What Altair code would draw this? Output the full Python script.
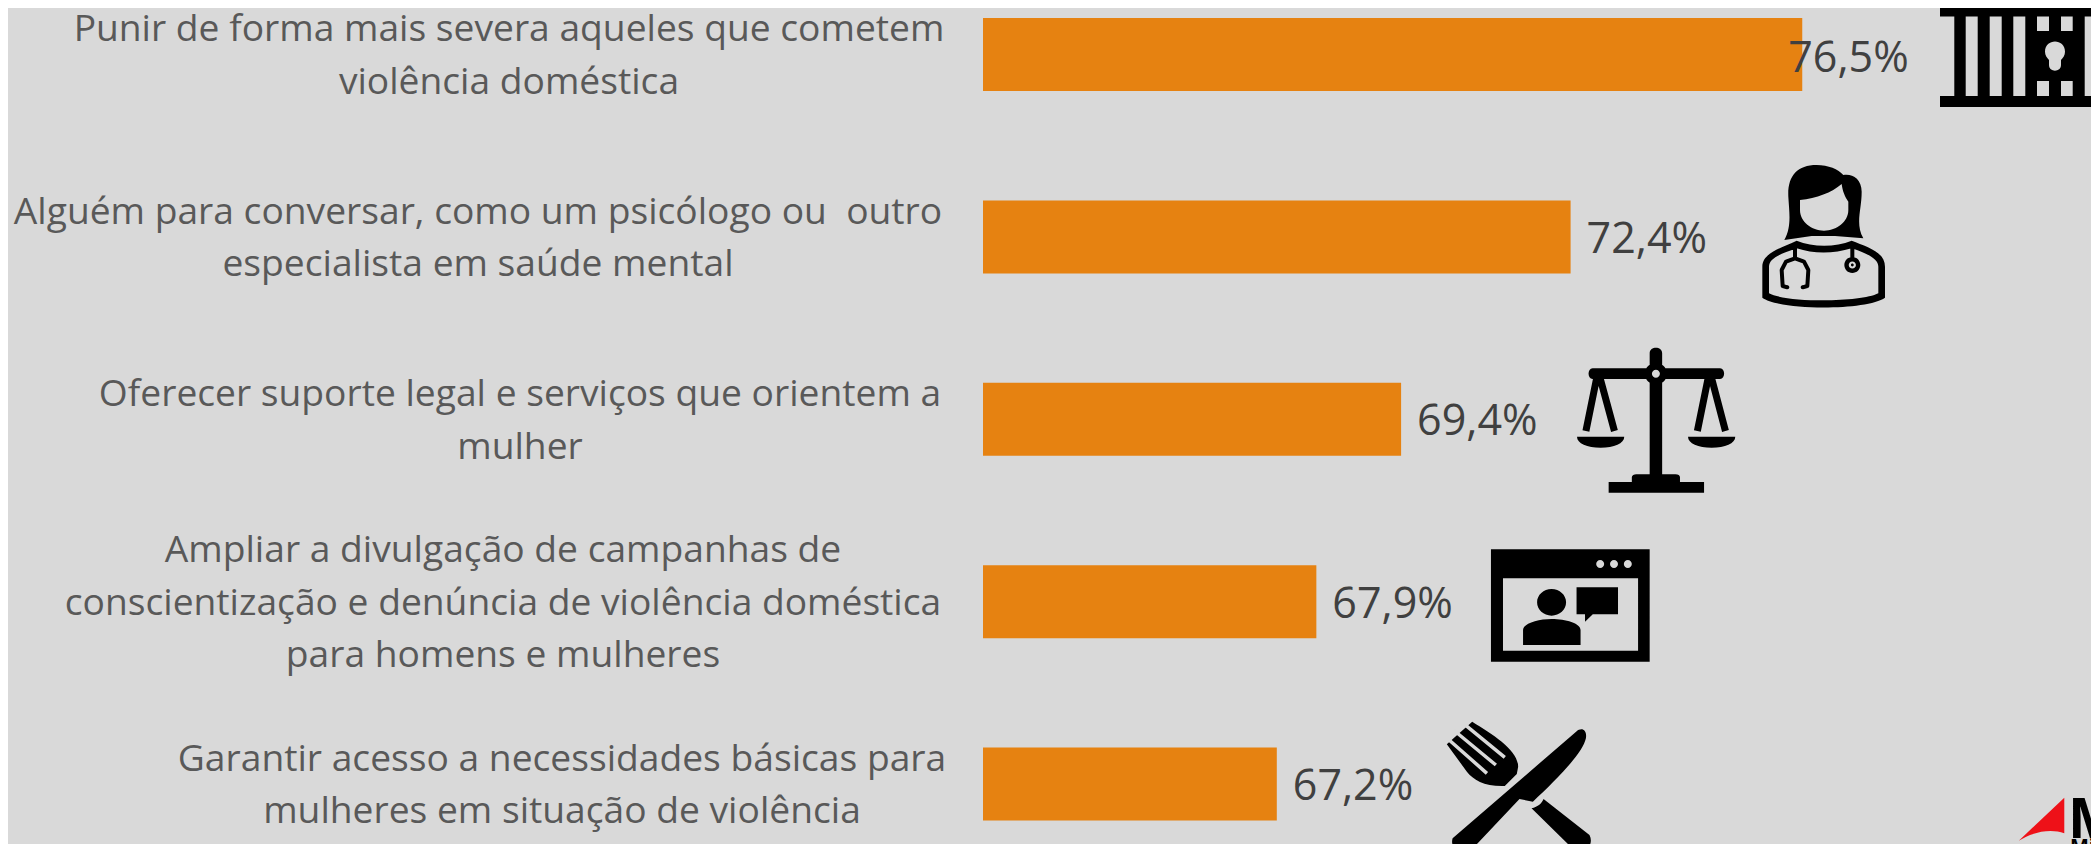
import altair as alt

# ---- data ----
categories = [
    "Punir de forma mais severa aqueles que cometem violência doméstica",
    "Alguém para conversar, como um psicólogo ou outro especialista em saúde mental",
    "Oferecer suporte legal e serviços que orientem a mulher",
    "Ampliar a divulgação de campanhas de conscientização e denúncia de violência doméstica para homens e mulheres",
    "Garantir acesso a necessidades básicas para mulheres em situação de violência",
]
label_lines = [
    ["Punir de forma mais severa aqueles que cometem", "violência doméstica"],
    ["Alguém para conversar, como um psicólogo ou\u00a0 outro", "especialista em saúde mental"],
    ["Oferecer suporte legal e serviços que orientem a", "mulher"],
    ["Ampliar a divulgação de campanhas de", "conscientização e denúncia de violência doméstica", "para homens e mulheres"],
    ["Garantir acesso a necessidades básicas para", "mulheres em situação de violência"],
]
values = [76.5, 72.4, 69.4, 67.9, 67.2]
value_labels = ["76,5%", "72,4%", "69,4%", "67,9%", "67,2%"]

W, H = 2083, 836
OFF = 8
BG = "#D9D9D9"
PX_PER_UNIT = 56.5
BASE = 62
X0 = 983  # picture x of the bars' baseline
x_scale = alt.Scale(domain=[BASE - (X0 - OFF) / PX_PER_UNIT, BASE + (W + OFF - X0) / PX_PER_UNIT], range=[0, W])
y_scale = alt.Scale(domain=categories, range=[-44.7, 867.3], paddingInner=0, paddingOuter=0, round=False)
Y = alt.Y("cat:N", sort=categories, scale=y_scale, axis=None)
X = alt.X("v:Q", scale=x_scale, axis=None)


# ---- helpers for the pictogram outlines (shape geometry only) ----
def z1(x, y):
    return (1700 + x / 3, y / 3)


def z2(x, y):
    return (1400 + x / 2.243, 330 + y / 3)


def _ends(sub):
    return [sub[0]] + [s[2] if isinstance(s[0], tuple) else s for s in sub[1:]]


def _area(sub):
    pts = _ends(sub)
    return sum(pts[i][0] * pts[(i + 1) % len(pts)][1] - pts[(i + 1) % len(pts)][0] * pts[i][1] for i in range(len(pts)))


def _rev(sub):
    ends = _ends(sub)
    out = [ends[-1]]
    for i in range(len(sub) - 1, 0, -1):
        s = sub[i]
        if isinstance(s[0], tuple):
            out.append((s[1], s[0], ends[i - 1]))
        else:
            out.append(ends[i - 1])
    return out


def shape(*sub, hole=False):
    sub = list(sub)
    a = _area(sub)
    if (a < 0) != hole:
        sub = _rev(sub)
    return sub


def mapped(f, *items, hole=False):
    sub = []
    for it in items:
        if isinstance(it[0], tuple):
            sub.append(tuple(f(*p) for p in it))
        else:
            sub.append(f(*it))
    return shape(*sub, hole=hole)


def rect(x0, y0, x1, y1, hole=False):
    return shape((x0, y0), (x1, y0), (x1, y1), (x0, y1), hole=hole)


def ell(cx, cy, rx, ry=None, hole=False):
    ry = rx if ry is None else ry
    k = 0.5523
    return shape(
        (cx - rx, cy),
        ((cx - rx, cy - k * ry), (cx - k * rx, cy - ry), (cx, cy - ry)),
        ((cx + k * rx, cy - ry), (cx + rx, cy - k * ry), (cx + rx, cy)),
        ((cx + rx, cy + k * ry), (cx + k * rx, cy + ry), (cx, cy + ry)),
        ((cx - k * rx, cy + ry), (cx - rx, cy + k * ry), (cx - rx, cy)),
        hole=hole,
    )


def seg(p, q, w, hole=False):
    dx, dy = q[0] - p[0], q[1] - p[1]
    n = (dx * dx + dy * dy) ** 0.5
    ox, oy = -dy / n * w / 2, dx / n * w / 2
    return shape((p[0] + ox, p[1] + oy), (q[0] + ox, q[1] + oy), (q[0] - ox, q[1] - oy), (p[0] - ox, p[1] - oy), hole=hole)


def line(f, pts, w):
    out = []
    rp = [f(*p) for p in pts]
    for a, b in zip(rp, rp[1:]):
        out.append(seg(a, b, w))
    for p in rp:
        out.append(ell(p[0], p[1], w / 2))
    return out


def render(subs, cx, cy):
    d = []
    for sub in subs:
        d.append(f"M{sub[0][0]-cx:.2f},{sub[0][1]-cy:.2f}")
        for s in sub[1:]:
            if isinstance(s[0], tuple):
                d.append("C" + " ".join(f"{p[0]-cx:.2f},{p[1]-cy:.2f}" for p in s))
            else:
                d.append(f"L{s[0]-cx:.2f},{s[1]-cy:.2f}")
        d.append("Z")
    return "".join(d)


# jail
jail = [rect(1940, 5.5, 2098.5, 16.5), rect(1940, 96, 2098.5, 107),
        rect(1954.3, 16.5, 1965.7, 96), rect(1977.7, 16.5, 1989.7, 96), rect(2001.7, 16.5, 2013.3, 96),
        rect(2025.3, 16.5, 2084.7, 96),
        rect(2037, 16.5, 2049, 31, hole=True), rect(2061, 16.5, 2072.7, 31, hole=True),
        rect(2037, 81, 2049, 96, hole=True), rect(2061, 81, 2072.7, 96, hole=True),
        shape((2045, 51.7), ((2045, 38), (2065, 38), (2065, 51.7)), ((2065, 55), (2063, 58), (2061, 60)), (2061, 65),
              ((2061, 72.5), (2049, 72.5), (2049, 65)), (2049, 60), ((2047, 58), (2045, 55), (2045, 51.7)), hole=True)]

# doctor
doctor = [
    mapped(z1, (265, 590), ((262, 530), (290, 495), (350, 495)), ((385, 495), (415, 508), (430, 525)),
           ((455, 520), (485, 535), (485, 575)), ((485, 630), (465, 670), (490, 715)), (405, 708), (335, 708), (253, 720),
           ((275, 680), (268, 640), (265, 590))),
    mapped(z1, (300, 600), (300, 630), ((300, 665), (335, 692), (372, 692)), ((410, 692), (445, 665), (445, 630)),
           (445, 605), ((435, 590), (428, 575), (425, 552)), ((395, 578), (350, 595), (300, 600)), hole=True),
    mapped(z1, (187, 890), (187, 800), ((187, 760), (240, 745), (290, 722)), ((340, 742), (405, 742), (455, 722)),
           ((500, 740), (555, 755), (555, 800)), (555, 893), ((500, 932), (240, 932), (187, 893))),
    mapped(z1, (207, 880), ((260, 908), (480, 908), (535, 880)), (535, 800), ((535, 775), (500, 760), (455, 745)),
           ((400, 762), (340, 762), (290, 745)), ((240, 762), (207, 775), (207, 800)), hole=True),
    *line(z1, [(285, 742), (285, 772)], 4),
    *line(z1, [(262, 862), (248, 858), (245, 810), (258, 785), (285, 775), (312, 785), (325, 810), (322, 858), (308, 862)], 4),
    *line(z1, [(457, 742), (457, 775)], 4),
    ell(*z1(457, 795), 8), ell(*z1(457, 795), 3.6, hole=True), ell(*z1(457, 795), 1.4),
]

# scales of justice
balance = [
    mapped(z2, (468, 456), (682, 456), (682, 488), (468, 488)),
    mapped(z2, (520, 456), (520, 442), ((520, 436), (525, 433), (530, 433)), (618, 433), ((624, 433), (628, 436), (628, 442)), (628, 456)),
    mapped(z2, (560, 70), ((560, 48), (588, 48), (588, 70)), (588, 433), (560, 433)),
    mapped(z2, (432, 115), (718, 115), ((730, 115), (730, 147), (718, 147)), (432, 147), ((420, 147), (420, 115), (432, 115))),
    ell(*z2(574, 131), 11, 11),
    ell(*z2(574, 131), 4, hole=True), ell(*z2(574, 131), 4, hole=True), ell(*z2(574, 131), 4, hole=True),
    seg(z2(441, 145), z2(417, 303), 7), seg(z2(449, 145), z2(481, 303), 7),
    seg(z2(691, 145), z2(667, 303), 7), seg(z2(699, 145), z2(730, 303), 7),
    mapped(z2, (397, 320), (503, 320), ((503, 340), (480, 353), (450, 353)), ((420, 353), (397, 340), (397, 320))),
    mapped(z2, (646, 320), (752, 320), ((752, 340), (729, 353), (699, 353)), ((669, 353), (646, 340), (646, 320))),
]


# video call window
def zr(x0, y0, x1, y1, hole=False):
    a, b = z2(x0, y0), z2(x1, y1)
    return rect(a[0], a[1], b[0], b[1], hole=hole)


video = [
    zr(204, 658, 560, 995), zr(231, 745, 534, 962, hole=True),
    ell(*z2(449, 702), 4, hole=True), ell(*z2(480, 702), 4, hole=True), ell(*z2(511, 702), 4, hole=True),
    ell(*z2(340, 817), 14.5, 13.3),
    mapped(z2, (276, 945), (276, 900), ((276, 880), (310, 867), (340, 867)), ((372, 867), (405, 880), (405, 900)), (405, 945)),
    zr(396, 772, 489, 853),
    mapped(z2, (415, 852), (433, 852), (415, 875)),
]

# fork and knife
cutlery = [
    mapped(z2, (395, 1205), ((408, 1190), (420, 1200), (417, 1225)), ((410, 1270), (350, 1350), (298, 1415)), (268, 1407),
           (160, 1560), ((145, 1575), (110, 1560), (118, 1525))),
    mapped(z2, (322, 1407), (425, 1515), ((435, 1540), (420, 1570), (395, 1566)), (295, 1435), ((310, 1430), (318, 1420), (322, 1407))),
    mapped(z2, (105, 1243), (162, 1175), ((210, 1215), (265, 1260), (265, 1310)), (262, 1332), (235, 1368),
           ((190, 1370), (165, 1350), (150, 1325))),
]
fork_slits = [
    seg(z2(100, 1218), z2(195, 1330), 3.5),
    seg(z2(120, 1200), z2(215, 1305), 3.5),
    seg(z2(140, 1178), z2(235, 1282), 3.5),
]

# logo arrow
logo = [mapped(z2, (1388, 1532), (1490, 1403), (1490, 1510), ((1460, 1495), (1420, 1505), (1388, 1532)))]


def icon(subs, cx, cy, color="black"):
    return alt.Chart(alt.Data(values=[{"i": 0}])).mark_point(
        shape=render(subs, cx, cy), size=4, filled=True, fill=color, strokeWidth=0, opacity=1
    ).encode(x=alt.value(cx - OFF), y=alt.value(cy - OFF))


# ---- chart ----
rows = [{"cat": c, "v": v, "b": BASE, "t": t} for c, v, t in zip(categories, values, value_labels)]
base = alt.Chart(alt.Data(values=rows))

bars = base.mark_bar(height=73, color="#E68211").encode(x=X, x2=alt.X2("b:Q"), y=Y)

FONT = "Open Sans"
lab_first = alt.Chart(alt.Data(values=rows[:1])).mark_text(
    align="left", baseline="middle", dx=-14, dy=4, font=FONT, fontSize=43, color="#404040"
).encode(x=X, y=Y, text="t:N")
lab_rest = alt.Chart(alt.Data(values=rows[1:])).mark_text(
    align="left", baseline="middle", dx=16, dy=3, font=FONT, fontSize=43, color="#404040"
).encode(x=X, y=Y, text="t:N")

centers = [509, 478, 520, 503, 562]
LINE_H = 52.5
cat_layers = []
for c, lines, cx in zip(categories, label_lines, centers):
    cat_layers.append(
        alt.Chart(alt.Data(values=[{"cat": c, "lines": lines}])).mark_text(
            align="center", baseline="middle", font=FONT, fontSize=37.2, lineHeight=LINE_H, color="#595959",
            dy=2 - (len(lines) - 1) * LINE_H / 2,
        ).encode(x=alt.value(cx - OFF), y=Y, text=alt.Text("lines:N"))
    )

logo_m = alt.Chart(alt.Data(values=[{"t": "M"}])).mark_text(
    align="left", baseline="alphabetic", font=FONT, fontSize=56, fontWeight="bold", color="black"
).encode(x=alt.value(2068 - OFF), y=alt.value(838 - OFF), text="t:N")
logo_s = alt.Chart(alt.Data(values=[{"t": "Mi"}])).mark_text(
    align="left", baseline="alphabetic", font=FONT, fontSize=20, fontWeight="bold", color="black"
).encode(x=alt.value(2070 - OFF), y=alt.value(853 - OFF), text="t:N")

chart = alt.layer(
    bars, *cat_layers, lab_first, lab_rest,
    icon(jail, 2019, 56), icon(doctor, 1823, 236), icon(balance, 1656, 420),
    icon(video, 1570, 605), icon(cutlery, 1519, 790), icon(fork_slits, 1519, 790, BG),
    icon(logo, 2040, 820, "#EE1118"), logo_m, logo_s,
).properties(
    width=W, height=H, background=BG, padding=0,
    autosize=alt.AutoSizeParams(type="none"),
).configure_view(stroke=None)

chart.save("out.html", embed_options={"renderer": "svg", "actions": False})
